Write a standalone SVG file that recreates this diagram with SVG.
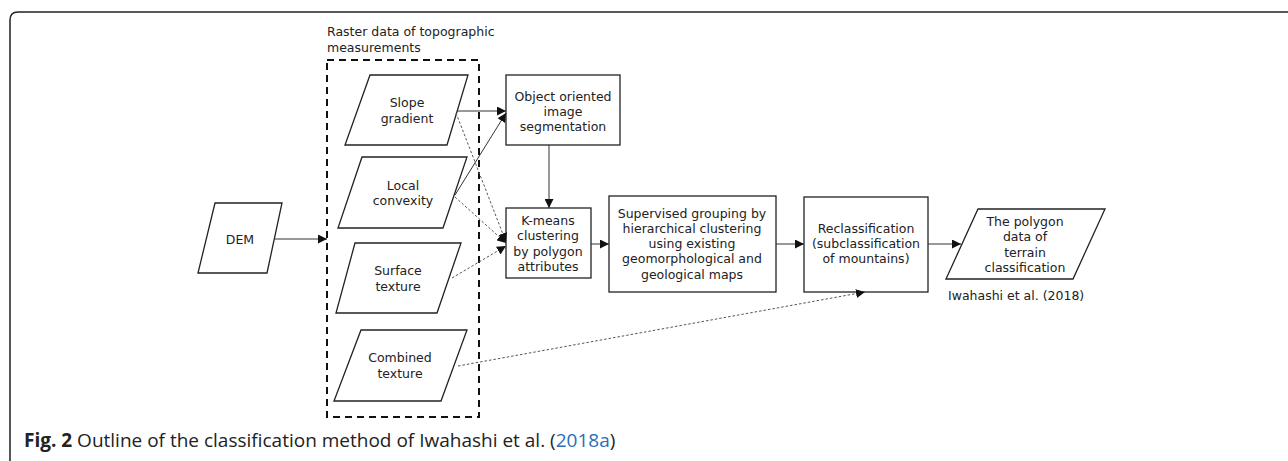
<svg xmlns="http://www.w3.org/2000/svg" width="1288" height="461" viewBox="0 0 1288 461">
  <style>
    .frame { fill: none; stroke: #222; stroke-width: 1.5; }
    .shape { fill: #fff; stroke: #222; stroke-width: 1.3; }
    .group { fill: none; stroke: #111; stroke-width: 2; stroke-dasharray: 7 5; }
    .lbl { font-family: "DejaVu Sans", Verdana, sans-serif; font-size: 12.5px; fill: #222; text-anchor: middle; }
    .note { font-family: "DejaVu Sans", Verdana, sans-serif; font-size: 12.5px; fill: #222; }
    .edge { fill: none; stroke: #333; stroke-width: 1; }
    .dot { fill: none; stroke: #555; stroke-width: 1; stroke-dasharray: 2.5 2; }
    .cap { font-family: "Open Sans", "Noto Sans", sans-serif; font-size: 19px; fill: #222; }
  </style>
  <defs>
    <marker id="arrow" viewBox="0 0 10 10" refX="10" refY="5" markerWidth="9" markerHeight="9" markerUnits="userSpaceOnUse" orient="auto">
      <path d="M0,0 L10,5 L0,10 z" fill="#111"/>
    </marker>
  </defs>

  <rect width="1288" height="461" fill="#fff"/>
  <!-- figure frame: rounded top-left corner -->
  <path class="frame" d="M10,461 V20 Q10,12 18,12 H1288"/>

  <!-- dashed grouping of raster inputs -->
  <g id="raster-group">
    <rect class="group" x="327" y="60" width="152" height="357"/>
    <text class="note" x="327" y="36">Raster data of topographic</text>
    <text class="note" x="327" y="52">measurements</text>
  </g>

  <g id="dem">
    <polygon class="shape" points="215,203 282,203 267,273 198,273"/>
    <text class="lbl" x="240" y="244">DEM</text>
  </g>

  <g id="slope">
    <polygon class="shape" points="370,75 468,75 447,145 345,145"/>
    <text class="lbl" x="407" y="107">Slope</text>
    <text class="lbl" x="407" y="123">gradient</text>
  </g>

  <g id="convexity">
    <polygon class="shape" points="362,157 467,157 443,228 338,228"/>
    <text class="lbl" x="403" y="190">Local</text>
    <text class="lbl" x="403" y="205">convexity</text>
  </g>

  <g id="surface">
    <polygon class="shape" points="355,243 461,243 437,313 336,313"/>
    <text class="lbl" x="398" y="275">Surface</text>
    <text class="lbl" x="398" y="291">texture</text>
  </g>

  <g id="combined">
    <polygon class="shape" points="361,330 467,330 441,401 334,401"/>
    <text class="lbl" x="400" y="362">Combined</text>
    <text class="lbl" x="400" y="378">texture</text>
  </g>

  <g id="segmentation">
    <rect class="shape" x="506" y="75" width="114" height="70"/>
    <text class="lbl" x="563" y="101">Object oriented</text>
    <text class="lbl" x="563" y="116">image</text>
    <text class="lbl" x="563" y="131">segmentation</text>
  </g>

  <g id="kmeans">
    <rect class="shape" x="506" y="208" width="85" height="70"/>
    <text class="lbl" x="548" y="225">K-means</text>
    <text class="lbl" x="548" y="240">clustering</text>
    <text class="lbl" x="548" y="256">by polygon</text>
    <text class="lbl" x="548" y="271">attributes</text>
  </g>

  <g id="supervised">
    <rect class="shape" x="609" y="196" width="167" height="96"/>
    <text class="lbl" x="692" y="218">Supervised grouping by</text>
    <text class="lbl" x="692" y="233">hierarchical clustering</text>
    <text class="lbl" x="692" y="248">using existing</text>
    <text class="lbl" x="692" y="263">geomorphological and</text>
    <text class="lbl" x="692" y="279">geological maps</text>
  </g>

  <g id="reclassification">
    <rect class="shape" x="804" y="197" width="124" height="95"/>
    <text class="lbl" x="866" y="233">Reclassification</text>
    <text class="lbl" x="866" y="248">(subclassification</text>
    <text class="lbl" x="866" y="263">of mountains)</text>
  </g>

  <g id="polygon-data">
    <polygon class="shape" points="978,209 1105,209 1073,279 946,279"/>
    <text class="lbl" x="1025" y="226">The polygon</text>
    <text class="lbl" x="1025" y="241">data of</text>
    <text class="lbl" x="1025" y="257">terrain</text>
    <text class="lbl" x="1025" y="272">classification</text>
    <text class="note" x="948" y="300">Iwahashi et al. (2018)</text>
  </g>

  <g id="connectors">
    <line class="edge" x1="274" y1="239" x2="327" y2="239" marker-end="url(#arrow)"/>
    <line class="edge" x1="457" y1="111" x2="506" y2="111" marker-end="url(#arrow)"/>
    <line class="edge" x1="455" y1="195" x2="506" y2="113" marker-end="url(#arrow)"/>
    <line class="dot" x1="456" y1="113" x2="506" y2="242" marker-end="url(#arrow)"/>
    <line class="dot" x1="455" y1="197" x2="506" y2="243" marker-end="url(#arrow)"/>
    <line class="dot" x1="452" y1="278" x2="506" y2="246" marker-end="url(#arrow)"/>
    <line class="edge" x1="549" y1="145" x2="549" y2="208" marker-end="url(#arrow)"/>
    <line class="edge" x1="591" y1="244" x2="609" y2="244" marker-end="url(#arrow)"/>
    <line class="edge" x1="776" y1="244" x2="804" y2="244" marker-end="url(#arrow)"/>
    <line class="edge" x1="928" y1="244" x2="961" y2="244" marker-end="url(#arrow)"/>
    <line class="dot" x1="458" y1="366" x2="865" y2="292" marker-end="url(#arrow)"/>
  </g>

  <text class="cap" x="24" y="447"><tspan font-weight="bold">Fig. 2</tspan> Outline of the classification method of Iwahashi et al. (<tspan fill="#2a6ebb">2018a</tspan>)</text>
</svg>
